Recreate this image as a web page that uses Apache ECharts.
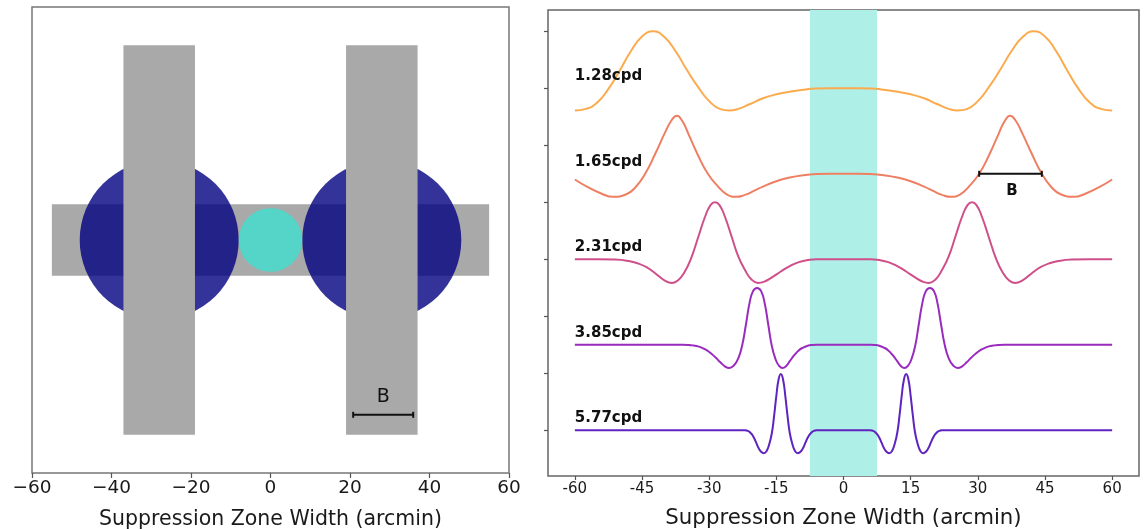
<!DOCTYPE html>
<html><head><meta charset="utf-8">
<script src="https://cdn.jsdelivr.net/npm/echarts@6/dist/echarts.min.js"></script>
<style>html,body{margin:0;padding:0;background:#fff}#c{width:1146px;height:529px}</style>
</head><body><div id="c"></div>
<script>
// ---------- Left panel: schematic (arcmin) ----------
const hBar = [[-55, 55, -9, 9]];                       // [x0, x1, y0, y1]
const vBars = [[-37, -19, -49, 49], [19, 37, -49, 49]];
const flankCircles = [[-28, 0, 20], [28, 0, 20]];      // [cx, cy, r]
const centerCircle = [[0, 0, 8]];
const leftScaleBar = [[20.8, 35.9, -44]];              // [x0, x1, y]
const leftScaleLabel = [[28.4, -39.6, 'B']];
const leftXTicks = [-60, -40, -20, 0, 20, 40, 60];

// ---------- Right panel: profiles ----------
const rightXTicks = [-60, -45, -30, -15, 0, 15, 30, 45, 60];
const rightYTicks = [0, 2, 4, 6, 8, 10, 12, 14];
const freqLabels = ['1.28cpd', '1.65cpd', '2.31cpd', '3.85cpd', '5.77cpd'];
const baselines = [12, 9, 6, 3, 0];
const band = [[-7.5, 7.5]];
const rightScaleBar = [[30.3, 44.3, 9]];
const rightScaleLabel = [[37.6, 8.4, 'B']];

// 1.28 cpd
const x128 = [-60,-57.5,-55,-52.5,-50,-47.5,-45,-42.5,-40,-37.5,-35,-32.5,-30,-27.5,-25.5,-23.5,-21,-18,-15,-12,-9,-6,-3,0,3,6,9,12,15,18,21,23.5,25.5,27.5,30,32.5,35,37.5,40,42.5,45,47.5,50,52.5,55,57.5,60];
const y128 = [11.22,11.28,11.5,11.98,12.62,13.3,13.82,14.0,13.8,13.3,12.65,12.05,11.55,11.27,11.22,11.28,11.44,11.65,11.79,11.88,11.95,11.99,12.0,12.0,12.0,11.99,11.95,11.88,11.79,11.65,11.44,11.28,11.22,11.27,11.55,12.05,12.65,13.3,13.8,14.0,13.82,13.3,12.62,11.98,11.5,11.28,11.22];
// 1.65 cpd
const x165 = [-60,-57,-54,-51.5,-48.5,-46.5,-44.3,-42,-40,-38.4,-37.2,-36,-34.5,-32.5,-30.3,-28,-26,-24,-22,-20,-18,-15,-12,-9,-6,-3,0,3,6,9,12,15,18,20,22,24,26,28,30.3,32.5,34.5,36,37.2,38.4,40,42,44.3,46.5,48.5,51.5,54,57,60];
const y165 = [8.8,8.52,8.3,8.19,8.28,8.52,9.0,9.72,10.4,10.88,11.04,10.85,10.35,9.65,9.0,8.55,8.27,8.19,8.26,8.4,8.55,8.74,8.87,8.95,8.99,9.0,9.0,9.0,8.99,8.95,8.87,8.74,8.55,8.4,8.26,8.19,8.27,8.55,9.0,9.65,10.35,10.85,11.04,10.88,10.4,9.72,9.0,8.52,8.28,8.19,8.3,8.52,8.8];
// 2.31 cpd
const x231 = [-60,-55,-51,-48,-46,-44,-42,-40,-38.3,-37,-35.5,-34,-32.4,-30.9,-29.7,-28.7,-27.7,-26.5,-25,-23.5,-22,-20.6,-19.1,-17.6,-16,-14,-12,-10,-8,-6,-3,0,3,6,8,10,12,14,16,17.6,19.1,20.6,22,23.5,25,26.5,27.7,28.7,29.7,30.9,32.4,34,35.5,37,38.3,40,42,44,46,48,51,55,60];
const y231 = [6.0,6.0,5.99,5.94,5.86,5.72,5.5,5.26,5.17,5.25,5.55,6.05,6.8,7.5,7.9,8.0,7.9,7.5,6.8,6.1,5.62,5.3,5.17,5.22,5.36,5.57,5.76,5.9,5.97,6.0,6.0,6.0,6.0,6.0,5.97,5.9,5.76,5.57,5.36,5.22,5.17,5.3,5.62,6.1,6.8,7.5,7.9,8.0,7.9,7.5,6.8,6.05,5.55,5.25,5.17,5.26,5.5,5.72,5.86,5.94,5.99,6.0,6.0];
// 3.85 cpd
const x385 = [-60,-45,-36,-34.5,-33.5,-32.5,-31.5,-30.5,-29.5,-28.5,-27.5,-26.5,-25.5,-24.5,-23.5,-22.6,-21.8,-21,-20.2,-19.3,-18.4,-17.6,-16.8,-16,-15.2,-14.4,-13.6,-12.8,-12,-11,-10,-9,-8,-7,-6,-4,0,4,6,7,8,9,10,11,12,12.8,13.6,14.4,15.2,16,16.8,17.6,18.4,19.3,20.2,21,21.8,22.6,23.5,24.5,25.5,26.5,27.5,28.5,29.5,30.5,31.5,32.5,33.5,34.5,36,45,60];
const y385 = [3.0,3.0,3.0,2.99,2.97,2.94,2.88,2.8,2.68,2.54,2.38,2.24,2.18,2.27,2.52,3.0,3.7,4.45,4.88,4.99,4.88,4.45,3.7,2.95,2.5,2.26,2.18,2.25,2.42,2.63,2.8,2.9,2.96,2.99,3.0,3.0,3.0,3.0,3.0,2.99,2.96,2.9,2.8,2.63,2.42,2.25,2.18,2.26,2.5,2.95,3.7,4.45,4.88,4.99,4.88,4.45,3.7,3.0,2.52,2.27,2.18,2.24,2.38,2.54,2.68,2.8,2.88,2.94,2.97,2.99,3.0,3.0,3.0];
// 5.77 cpd
const x577 = [-60,-45,-30,-25,-22,-21.5,-21,-20.5,-20,-19.5,-19,-18.4,-17.8,-17.2,-16.6,-16,-15.5,-15,-14.5,-14,-13.5,-13,-12.5,-12,-11.4,-10.8,-10.2,-9.6,-9,-8.5,-8,-7.5,-7,-6.5,-6,-3,0,3,6,6.5,7,7.5,8,8.5,9,9.6,10.2,10.8,11.4,12,12.5,13,13.5,14,14.5,15,15.5,16,16.6,17.2,17.8,18.4,19,19.5,20,20.5,21,21.5,22,25,30,45,60];
const y577 = [0,0,0,0,0,-0.02,-0.06,-0.14,-0.27,-0.44,-0.62,-0.76,-0.81,-0.74,-0.5,-0.1,0.5,1.2,1.78,1.97,1.78,1.2,0.5,-0.1,-0.5,-0.74,-0.81,-0.76,-0.62,-0.44,-0.27,-0.14,-0.06,-0.02,0,0,0,0,0,-0.02,-0.06,-0.14,-0.27,-0.44,-0.62,-0.76,-0.81,-0.74,-0.5,-0.1,0.5,1.2,1.78,1.97,1.78,1.2,0.5,-0.1,-0.5,-0.74,-0.81,-0.76,-0.62,-0.44,-0.27,-0.14,-0.06,-0.02,0,0,0,0,0];

const curveX = [x128, x165, x231, x385, x577];
const curveY = [y128, y165, y231, y385, y577];
const curveColors = ['#fbab4e', '#ef7f62', '#cf4f8a', '#9a2bbf', '#5f23bf'];

const FONT = '"DejaVu Sans", Verdana, sans-serif';
const chart = echarts.init(document.getElementById('c'), null, {renderer: 'canvas'});

function rectItem(params, api, fill) {
  const p0 = api.coord([api.value(0), api.value(3)]);
  const p1 = api.coord([api.value(1), api.value(2)]);
  return {type: 'rect', shape: {x: p0[0], y: p0[1], width: p1[0] - p0[0], height: p1[1] - p0[1]}, style: {fill: fill}};
}
function circleItem(params, api, fill) {
  const c = api.coord([api.value(0), api.value(1)]);
  const r = api.size([api.value(2), 0])[0];
  return {type: 'circle', shape: {cx: c[0], cy: c[1], r: r}, style: {fill: fill}};
}
function barItem(params, api, color) {
  const a = api.coord([api.value(0), api.value(2)]);
  const b = api.coord([api.value(1), api.value(2)]);
  const cap = 3;
  const ls = {stroke: color, lineWidth: 2};
  return {type: 'group', children: [
    {type: 'line', shape: {x1: a[0], y1: a[1], x2: b[0], y2: b[1]}, style: ls},
    {type: 'line', shape: {x1: a[0], y1: a[1] - cap, x2: a[0], y2: a[1] + cap}, style: ls},
    {type: 'line', shape: {x1: b[0], y1: b[1] - cap, x2: b[0], y2: b[1] + cap}, style: ls}
  ]};
}
function textItem(font, align) {
  return function (params, api) {
    const p = api.coord([api.value(0), api.value(1)]);
    return {type: 'text', x: p[0], y: p[1], style: {text: String(api.value(2)), font: font, fill: '#111', textAlign: align, textVerticalAlign: 'middle'}};
  };
}

const series = [
  {type: 'custom', xAxisIndex: 0, yAxisIndex: 0, z: 1, data: hBar, renderItem: (p, a) => rectItem(p, a, '#a9a9a9'), silent: true},
  {type: 'custom', xAxisIndex: 0, yAxisIndex: 0, z: 2, data: flankCircles, renderItem: (p, a) => circleItem(p, a, 'rgba(0,0,128,0.8)'), silent: true},
  {type: 'custom', xAxisIndex: 0, yAxisIndex: 0, z: 3, data: centerCircle, renderItem: (p, a) => circleItem(p, a, 'rgba(64,224,208,0.8)'), silent: true},
  {type: 'custom', xAxisIndex: 0, yAxisIndex: 0, z: 4, data: vBars, renderItem: (p, a) => rectItem(p, a, '#a9a9a9'), silent: true},
  {type: 'custom', xAxisIndex: 0, yAxisIndex: 0, z: 5, data: leftScaleBar, renderItem: (p, a) => barItem(p, a, '#111'), silent: true},
  {type: 'custom', xAxisIndex: 0, yAxisIndex: 0, z: 5, data: leftScaleLabel, dimensions: ['x', 'y', {name: 't', type: 'ordinal'}], renderItem: textItem('19px ' + FONT, 'center'), silent: true},
  {type: 'custom', xAxisIndex: 1, yAxisIndex: 1, z: 1, data: band, silent: true,
    renderItem: function (params, api) {
      const cs = params.coordSys;
      const a = api.coord([api.value(0), 0]);
      const b = api.coord([api.value(1), 0]);
      return {type: 'rect', shape: {x: a[0], y: cs.y, width: b[0] - a[0], height: cs.height}, style: {fill: '#aeefe7'}};
    }}
];
curveX.forEach((xs, i) => {
  series.push({type: 'line', xAxisIndex: 1, yAxisIndex: 1, z: 3, data: xs.map((x, j) => [x, curveY[i][j]]),
    smooth: 0.5, showSymbol: false, silent: true, lineStyle: {color: curveColors[i], width: 2}});
});
const labelData = freqLabels.map((t, i) => [-60, baselines[i] + 0.42, t]);
series.push({type: 'custom', xAxisIndex: 1, yAxisIndex: 1, z: 6, data: labelData, dimensions: ['x', 'y', {name: 't', type: 'ordinal'}], renderItem: textItem('bold 15px ' + FONT, 'left'), silent: true});
series.push({type: 'custom', xAxisIndex: 1, yAxisIndex: 1, z: 6, data: rightScaleBar, renderItem: (p, a) => barItem(p, a, '#111'), silent: true});
series.push({type: 'custom', xAxisIndex: 1, yAxisIndex: 1, z: 6, data: rightScaleLabel, dimensions: ['x', 'y', {name: 't', type: 'ordinal'}], renderItem: textItem('bold 15px ' + FONT, 'center'), silent: true});

const axisTitle = 'Suppression Zone Width (arcmin)';
chart.setOption({
  animation: false,
  backgroundColor: '#fff',
  grid: [
    {left: 32, top: 7, width: 477, height: 466, show: true, borderColor: '#777', borderWidth: 1.5, containLabel: false, outerBoundsMode: 'none'},
    {left: 548, top: 10, width: 591, height: 466, show: true, borderColor: '#666', borderWidth: 1.5, containLabel: false, outerBoundsMode: 'none'}
  ],
  xAxis: [
    {type: 'value', gridIndex: 0, min: -60, max: 60, interval: 20,
      axisLine: {show: false, onZero: false}, splitLine: {show: false},
      axisTick: {show: true, inside: false, length: 5, lineStyle: {color: '#555', width: 1.2}},
      axisLabel: {fontSize: 18.5, fontFamily: FONT, color: '#1a1a1a', margin: 6, formatter: v => String(v).replace('-', '\u2212')},
      name: axisTitle, nameLocation: 'middle', nameGap: 36, nameTextStyle: {fontSize: 20.5, fontFamily: FONT, color: '#1a1a1a'}},
    {type: 'value', gridIndex: 1, min: -66, max: 66,
      axisLine: {show: false, onZero: false}, splitLine: {show: false},
      axisTick: {show: true, inside: false, length: 4, customValues: rightXTicks, lineStyle: {color: '#555', width: 1.2}},
      axisLabel: {fontSize: 15, fontFamily: FONT, color: '#1a1a1a', margin: 6, customValues: rightXTicks, formatter: v => String(v)},
      name: axisTitle, nameLocation: 'middle', nameGap: 32, nameTextStyle: {fontSize: 21.3, fontFamily: FONT, color: '#1a1a1a'}}
  ],
  yAxis: [
    {type: 'value', gridIndex: 0, min: -58.65, max: 58.65,
      axisLine: {show: false, onZero: false}, axisTick: {show: false}, axisLabel: {show: false}, splitLine: {show: false}},
    {type: 'value', gridIndex: 1, min: -1.61, max: 14.75,
      axisLine: {show: false, onZero: false}, splitLine: {show: false},
      axisTick: {show: true, inside: false, length: 4, customValues: rightYTicks, lineStyle: {color: '#555', width: 1.2}},
      axisLabel: {show: false}}
  ],
  series: series
});
</script></body></html>
